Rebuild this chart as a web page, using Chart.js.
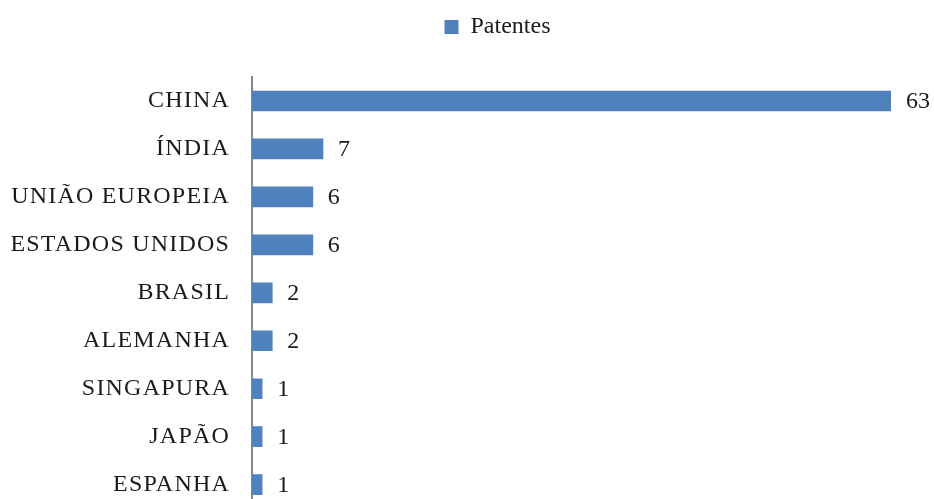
<!DOCTYPE html>
<html>
<head>
<meta charset="utf-8">
<script src="https://cdn.jsdelivr.net/npm/chart.js@4"></script>
<style>
html,body{margin:0;padding:0;background:#fff;overflow:hidden;}
#wrap{width:995px;height:537px;position:relative;}
</style>
</head>
<body>
<div id="wrap"><canvas id="c" width="995" height="537"></canvas></div>
<script>
const categories = ["CHINA","ÍNDIA","UNIÃO EUROPEIA","ESTADOS UNIDOS","BRASIL","ALEMANHA","SINGAPURA","JAPÃO","ESPANHA"];
const patentes = [63, 7, 6, 6, 2, 2, 1, 1, 1];
const seriesName = "Patentes";

const FONT = "'Liberation Serif', 'DejaVu Serif', serif";

const valueLabels = {
  id: 'valueLabels',
  afterDatasetsDraw(chart) {
    const ctx = chart.ctx;
    const meta = chart.getDatasetMeta(0);
    ctx.save();
    ctx.font = "24px " + FONT;
    ctx.fillStyle = "#1a1a1a";
    ctx.textAlign = "left";
    ctx.textBaseline = "middle";
    meta.data.forEach((bar, i) => {
      ctx.fillText(String(chart.data.datasets[0].data[i]), bar.x + 15, bar.y + 1);
    });
    ctx.restore();
  }
};

const spacedTicks = {
  id: 'spacedTicks',
  afterLayout(chart) {
    const sc = chart.scales.y;
    if (sc && !sc._spacedPatched) {
      const orig = sc.drawLabels;
      sc.drawLabels = function (area) {
        const ctx = this.ctx;
        ctx.save();
        ctx.letterSpacing = '1.2px';
        orig.call(this, area);
        ctx.restore();
      };
      sc._spacedPatched = true;
    }
  }
};

new Chart(document.getElementById('c'), {
  type: 'bar',
  data: {
    labels: categories,
    datasets: [{
      label: seriesName,
      data: patentes,
      backgroundColor: '#4F81BD',
      borderColor: '#4F81BD',
      borderWidth: 0,
      barThickness: 20
    }]
  },
  options: {
    indexAxis: 'y',
    responsive: false,
    animation: false,
    layout: { padding: { top: 2, right: 0, bottom: 0, left: 0 } },
    plugins: {
      legend: {
        display: true,
        position: 'top',
        labels: {
          font: { family: FONT, size: 24 },
          color: '#1a1a1a',
          boxWidth: 14,
          boxHeight: 14,
          padding: 13
        }
      },
      tooltip: { enabled: false }
    },
    scales: {
      x: {
        display: true,
        position: 'top',
        min: 0,
        max: 63,
        grid: { display: false },
        border: { display: false },
        ticks: { display: false },
        afterFit(scale) { scale.height = 28; }
      },
      y: {
        grid: { display: false },
        border: { display: true, color: '#868686', width: 2 },
        ticks: {
          font: { family: FONT, size: 24 },
          color: '#1a1a1a',
          padding: 14
        },
        afterFit(scale) { scale.width = 252; }
      },
      yRight: {
        type: 'category',
        position: 'right',
        display: true,
        grid: { display: false },
        border: { display: false },
        ticks: { display: false },
        afterFit(scale) { scale.width = 104; }
      }
    }
  },
  plugins: [valueLabels, spacedTicks]
});
</script>
</body>
</html>
